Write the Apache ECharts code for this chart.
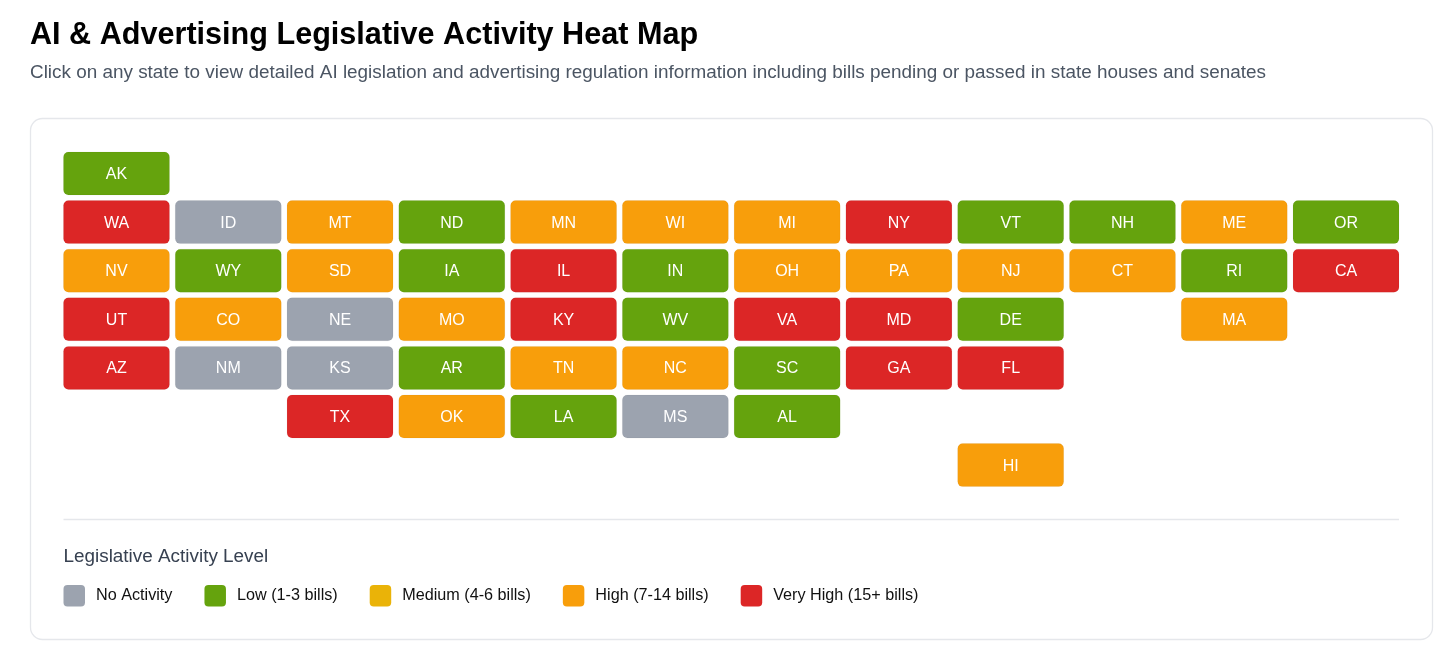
<!DOCTYPE html>
<html><head><meta charset="utf-8">
<style>html,body{margin:0;padding:0;background:#fff}#c{width:1456px;height:657px}</style>
<script src="https://cdn.jsdelivr.net/npm/echarts@6/dist/echarts.min.js"></script>
</head><body><div id="c"></div>
<script>
const FONT = '"Liberation Sans", Arial, sans-serif';
const columns = ['1','2','3','4','5','6','7','8','9','10','11','12'];
const rows = ['1','2','3','4','5','6','7'];
const levelNames = ['No Activity','Low (1-3 bills)','Medium (4-6 bills)','High (7-14 bills)','Very High (15+ bills)'];
const levelColors = ['#9ca3af','#65a30d','#eab308','#f89e0b','#dc2626'];
const row1States = ['AK'];
const row1Levels = [1];
const row2States = ['WA','ID','MT','ND','MN','WI','MI','NY','VT','NH','ME','OR'];
const row2Levels = [4,0,3,1,3,3,3,4,1,1,3,1];
const row3States = ['NV','WY','SD','IA','IL','IN','OH','PA','NJ','CT','RI','CA'];
const row3Levels = [3,1,3,1,4,1,3,3,3,3,1,4];
const row4States = ['UT','CO','NE','MO','KY','WV','VA','MD','DE',null,'MA',null];
const row4Levels = [4,3,0,3,4,1,4,4,1,null,3,null];
const row5States = ['AZ','NM','KS','AR','TN','NC','SC','GA','FL'];
const row5Levels = [4,0,0,1,3,3,1,4,4];
const row6States = [null,null,'TX','OK','LA','MS','AL'];
const row6Levels = [null,null,4,3,1,0,1];
const row7States = [null,null,null,null,null,null,null,null,'HI'];
const row7Levels = [null,null,null,null,null,null,null,null,3];
const stateRows = [row1States,row2States,row3States,row4States,row5States,row6States,row7States];
const levelRows = [row1Levels,row2Levels,row3Levels,row4Levels,row5Levels,row6Levels,row7Levels];

const byLevel = levelNames.map(() => []);
stateRows.forEach((states, r) => states.forEach((s, c) => {
  if (s) byLevel[levelRows[r][c]].push([c, r, s]);
}));

const GAP_X = 5.8, GAP_Y = 5.6;
function renderItem(params, api) {
  const p = api.coord([api.value(0), api.value(1)]);
  const band = api.size([1, 1]);
  const w = band[0] - GAP_X, h = band[1] - GAP_Y;
  const fill = api.visual('color');
  return {
    type: 'group',
    children: [
      { type: 'rect', shape: { x: p[0] - w / 2, y: p[1] - h / 2, width: w, height: h, r: 5 },
        style: { fill: fill, stroke: 'rgba(0,0,0,0.04)', lineWidth: 1 } },
      { type: 'text', x: p[0], y: p[1] + 1,
        style: { text: api.value(2), fill: '#fff', font: '16px ' + FONT, align: 'center', verticalAlign: 'middle' } }
    ]
  };
}

const chart = echarts.init(document.getElementById('c'), null, { renderer: 'canvas', width: 1456, height: 657 });
chart.setOption({
  animation: false,
  backgroundColor: '#ffffff',
  textStyle: { fontFamily: FONT },
  title: [
    { text: 'Click on any state to view detailed AI legislation and advertising regulation information including bills pending or passed in state houses and senates',
      left: 30, top: 63, padding: 0,
      textStyle: { fontFamily: FONT, fontSize: 18.9, fontWeight: 'normal', color: '#4b5563' } },
    { text: 'Legislative Activity Level', left: 63.5, top: 547, padding: 0,
      textStyle: { fontFamily: FONT, fontSize: 18.9, fontWeight: 'normal', color: '#374151' } }
  ],
  graphic: [
    { type: 'text', x: 30, y: 35, scaleX: 0.956, originX: 0, originY: 0,
      style: { text: 'AI & Advertising Legislative Activity Heat Map', fill: '#000',
        font: 'bold 32px ' + FONT, align: 'left', verticalAlign: 'middle' } },
    { type: 'rect', z: -10, shape: { x: 30.5, y: 118.5, width: 1402, height: 521, r: 12 },
      style: { fill: '#fff', stroke: '#e5e7eb', lineWidth: 1.3 } },
    { type: 'line', z: -10, shape: { x1: 63.5, y1: 519.5, x2: 1399, y2: 519.5 },
      style: { stroke: '#e5e7eb', lineWidth: 1.3 } }
  ],
  grid: { left: 60.6, top: 149.2, width: 1341.3, height: 340.2, containLabel: false },
  xAxis: { type: 'category', data: columns, show: false },
  yAxis: { type: 'category', data: rows, inverse: true, show: false },
  legend: {
    left: 63.5, top: 585, padding: 0, orient: 'horizontal',
    itemWidth: 21.5, itemHeight: 21.5, itemGap: 32,
    icon: 'path://M6,0H26A6,6,0,0,1,32,6V26A6,6,0,0,1,26,32H6A6,6,0,0,1,0,26V6A6,6,0,0,1,6,0Z',
    selectedMode: false,
    data: levelNames,
    textStyle: { fontFamily: FONT, fontSize: 16.2, color: '#111', padding: [7, 0, 0, 6] }
  },
  tooltip: { show: false },
  series: levelNames.map((name, i) => ({
    name, type: 'custom', renderItem,
    itemStyle: { color: levelColors[i] },
    encode: { x: 0, y: 1 },
    data: byLevel[i],
    silent: true
  }))
});
</script></body></html>
